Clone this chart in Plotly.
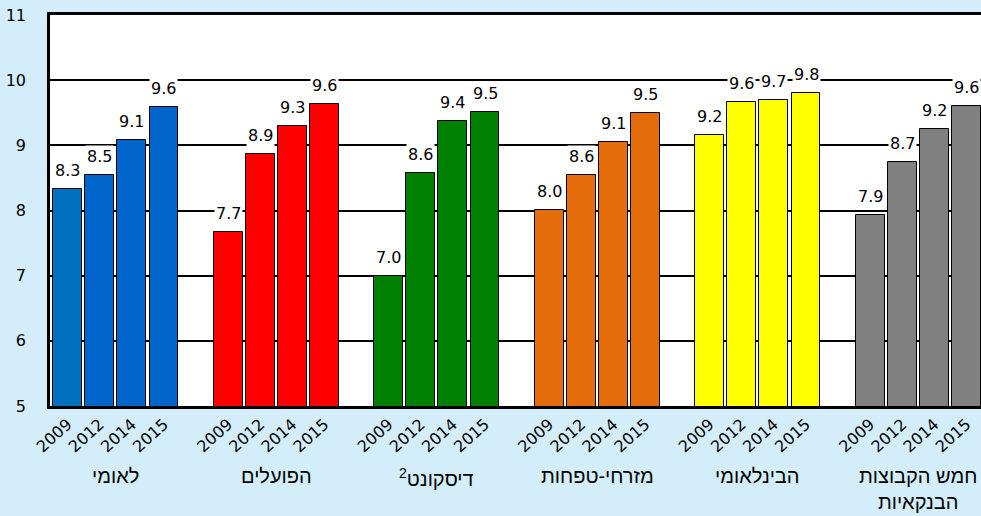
import plotly.graph_objects as go

groups = ["לאומי", "הפועלים", "דיסקונט<sup>2</sup>", "מזרחי-טפחות", "הבינלאומי", "חמש הקבוצות<br>הבנקאיות"]
years = ["2009", "2012", "2014", "2015"]
values = [
    [8.33, 8.54, 9.08, 9.59],
    [7.67, 8.87, 9.30, 9.63],
    [7.00, 8.58, 9.37, 9.51],
    [8.01, 8.54, 9.05, 9.50],
    [9.16, 9.66, 9.70, 9.80],
    [7.93, 8.74, 9.25, 9.60],
]
labels = [
    ["8.3", "8.5", "9.1", "9.6"],
    ["7.7", "8.9", "9.3", "9.6"],
    ["7.0", "8.6", "9.4", "9.5"],
    ["8.0", "8.6", "9.1", "9.5"],
    ["9.2", "9.6", "9.7", "9.8"],
    ["7.9", "8.7", "9.2", "9.6"],
]
colors = [
    ["#0070c0", "#0066cc", "#0066cc", "#0066cc"],
    ["#ff0000"] * 4,
    ["#008000"] * 4,
    ["#e46c0a"] * 4,
    ["#ffff00"] * 4,
    ["#808080"] * 4,
]
y_ticks = [5, 6, 7, 8, 9, 10, 11]

BG = "#d3eefa"
NUM_FONT = "DejaVu Sans"
HEB_FONT = "Liberation Sans"

xs, ys, cs, tx, tt = [], [], [], [], []
for g in range(len(groups)):
    for i in range(len(years)):
        p = g * 5 + i
        xs.append(p)
        ys.append(values[g][i])
        cs.append(colors[g][i])
        tx.append(p)
        tt.append(years[i])

fig = go.Figure()
fig.add_trace(go.Bar(
    x=xs, y=ys, base=0, width=0.9,
    marker=dict(color=cs, line=dict(color="#000000", width=1)),
    hoverinfo="skip", showlegend=False,
))

annotations = []
k = 0
for g in range(len(groups)):
    for i in range(len(years)):
        annotations.append(dict(
            x=xs[k], y=ys[k], xref="x", yref="y", text=labels[g][i],
            showarrow=False, yanchor="bottom", yshift=7,
            font=dict(family=NUM_FONT, size=16, color="#000"),
            bgcolor="#ffffff", borderpad=1,
        ))
        k += 1
    annotations.append(dict(
        x=g * 5 + 1.5, y=-0.145, xref="x", yref="paper", text=groups[g],
        showarrow=False, yanchor="top",
        font=dict(family=HEB_FONT, size=20, color="#000"),
    ))

fig.update_layout(
    width=981, height=516,
    margin=dict(l=50, r=0, t=15, b=110),
    paper_bgcolor=BG, plot_bgcolor="#ffffff",
    bargap=0,
    annotations=annotations,
    xaxis=dict(
        range=[-0.55, 28.45], tickvals=tx, ticktext=tt, tickangle=-42,
        tickfont=dict(family=NUM_FONT, size=16, color="#000"),
        showgrid=False, zeroline=False, showline=True, linecolor="#000",
        linewidth=2.5, mirror=True, ticks="",
    ),
    yaxis=dict(
        range=[5, 11], tickvals=y_ticks, showgrid=True, gridcolor="#000",
        gridwidth=1.5, zeroline=False, showline=True, linecolor="#000",
        linewidth=2.5, ticks="", ticklabelstandoff=18,
        tickfont=dict(family=NUM_FONT, size=16, color="#000"),
    ),
)

fig.write_html(
    "out.html",
    config={"displayModeBar": False},
    post_script="document.body.style.margin='0';document.body.style.overflow='hidden';",
)
